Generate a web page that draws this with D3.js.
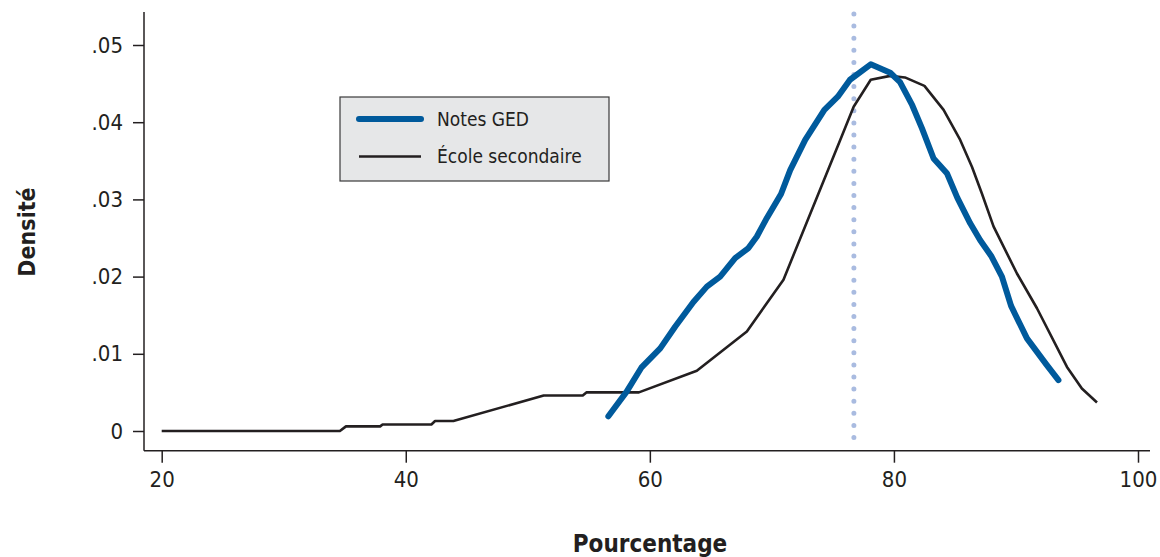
<!DOCTYPE html>
<html>
<head>
<meta charset="utf-8">
<script src="https://cdn.jsdelivr.net/npm/d3@7"></script>
<style>
  body { margin: 0; background: #fff; }
  text { font-family: "Liberation Sans Narrow", "DejaVu Sans Condensed", sans-serif; fill: #231f20; }
  .axis .domain { display: none; }
  .axis line { stroke: #231f20; stroke-width: 1.5; }
  .axis text { font-size: 22px; }
</style>
</head>
<body>
<svg width="1160" height="557"></svg>
<script>
// Notes GED (blue) : [pourcentage, densité]
const gedX = [56.6, 58.1, 59.3, 60.85, 62.07, 63.57, 64.67, 65.76, 66.99, 68.08, 68.77, 69.59, 70.75, 71.5, 72.73, 74.3, 75.4, 76.4, 78.1, 79.7, 80.5, 81.5, 82.3, 83.25, 84.34, 85.2, 86.25, 87.07, 88.0, 88.85, 89.6, 90.9, 92.5, 93.48];
const gedY = [.0019, .0051, .0082, .0107, .0135, .0167, .0187, .0200, .0224, .0237, .0252, .0276, .0307, .0338, .0377, .0416, .0433, .0455, .0475, .0464, .0452, .0422, .0392, .0353, .0334, .0302, .0269, .0247, .0226, .0200, .0162, .0120, .0086, .0066];

// École secondaire (black)
const ecoleX = [20, 34.6, 35.1, 37.9, 38.1, 42.1, 42.4, 43.9, 51.3, 54.5, 54.8, 59.1, 63.85, 67.95, 70.95, 75.6, 76.7, 78.1, 79.7, 80.9, 82.5, 84.07, 85.43, 86.4, 87.2, 88.16, 90.08, 91.72, 94.18, 95.4, 96.64];
const ecoleY = [0, 0, .0006, .0006, .00085, .00085, .0013, .0013, .0046, .0046, .0050, .0050, .0078, .0129, .0196, .0377, .0420, .0455, .0460, .0458, .0447, .0416, .0377, .0342, .0308, .0265, .0204, .0159, .0083, .0055, .0037];

const xTicks = [20, 40, 60, 80, 100];
const yTicks = [0, .01, .02, .03, .04, .05];
const refLine = 76.72;

const seriesNames = ["Notes GED", "École secondaire"];

let svg = d3.select("svg");

let x = d3.scaleLinear().domain([20, 100]).range([161.7, 1138]);
let y = d3.scaleLinear().domain([0, .05]).range([431, 45]);

// frame
const frameLeft = 144, frameBottom = 450.7, frameTop = 12, frameRight = 1150;

svg.append("line")
    .attr("x1", frameLeft).attr("x2", frameLeft)
    .attr("y1", frameTop).attr("y2", frameBottom)
    .attr("stroke", "#231f20").attr("stroke-width", 1.5);
svg.append("line")
    .attr("x1", frameLeft).attr("x2", frameRight)
    .attr("y1", frameBottom).attr("y2", frameBottom)
    .attr("stroke", "#231f20").attr("stroke-width", 1.5);

// y axis
svg.append("g")
    .attr("class", "axis axis--y")
    .attr("transform", "translate(" + frameLeft + ",0)")
    .call(d3.axisLeft(y).tickValues(yTicks).tickSize(11).tickPadding(10)
      .tickFormat(function(d) { return d === 0 ? "0" : d3.format(".2f")(d).replace(/^0/, ""); }));

// x axis
svg.append("g")
    .attr("class", "axis axis--x")
    .attr("transform", "translate(0," + frameBottom + ")")
    .call(d3.axisBottom(x).tickValues(xTicks).tickSize(12).tickPadding(9));

// axis titles
svg.append("text")
    .attr("transform", "translate(35,232) rotate(-90)")
    .attr("text-anchor", "middle")
    .style("font-size", "23px").style("font-weight", "bold")
    .text("Densité");

svg.append("text")
    .attr("x", 650).attr("y", 552)
    .attr("text-anchor", "middle")
    .style("font-size", "24px").style("font-weight", "bold")
    .text("Pourcentage");

// dotted reference line
svg.append("line")
    .attr("x1", x(refLine)).attr("x2", x(refLine))
    .attr("y1", 14).attr("y2", 440)
    .attr("stroke", "#a9bbe0")
    .attr("stroke-width", 5)
    .attr("stroke-linecap", "round")
    .attr("stroke-dasharray", "0,12.1");

let line = d3.line()
    .x(function(d) { return x(d[0]); })
    .y(function(d) { return y(d[1]); });

let ecole = d3.zip(ecoleX, ecoleY);
let ged = d3.zip(gedX, gedY);

svg.append("path")
    .datum(ecole)
    .attr("fill", "none")
    .attr("stroke", "#231f20")
    .attr("stroke-width", 2.6)
    .attr("stroke-linejoin", "round")
    .attr("d", line);

svg.append("path")
    .datum(ged)
    .attr("fill", "none")
    .attr("stroke", "#005a9c")
    .attr("stroke-width", 6)
    .attr("stroke-linejoin", "round")
    .attr("stroke-linecap", "round")
    .attr("d", line);

// legend
let legend = svg.append("g").attr("transform", "translate(340,97)");
legend.append("rect")
    .attr("width", 269).attr("height", 84)
    .attr("fill", "#e6e7e8")
    .attr("stroke", "#3a3a3a").attr("stroke-width", 1.2);

const legendStyles = [
  {color: "#005a9c", width: 6, cap: "round"},
  {color: "#231f20", width: 2.6, cap: "butt"}
];

seriesNames.forEach(function(name, i) {
  let yy = 22 + i * 37.5;
  legend.append("line")
      .attr("x1", 19).attr("x2", 81)
      .attr("y1", yy).attr("y2", yy)
      .attr("stroke", legendStyles[i].color)
      .attr("stroke-width", legendStyles[i].width)
      .attr("stroke-linecap", legendStyles[i].cap);
  legend.append("text")
      .attr("x", 97).attr("y", yy)
      .attr("dy", ".35em")
      .style("font-size", "19px")
      .text(name);
});
</script>
</body>
</html>
